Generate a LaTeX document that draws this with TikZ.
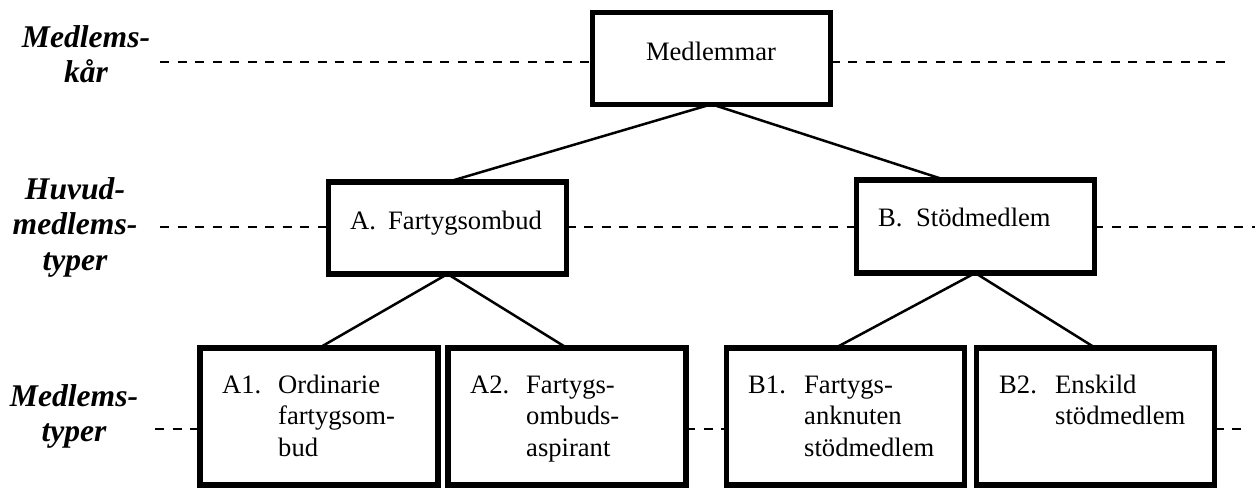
\documentclass[tikz,border=0pt]{standalone}
\usepackage{fontspec}
\setmainfont{Liberation Serif}
\usetikzlibrary{calc}
\begin{document}
\begin{tikzpicture}[x=1pt,y=-1pt,
  box/.style={draw,line width=5.5pt,minimum width=238pt,inner sep=0pt,outer sep=0pt},
  conn/.style={line width=2.5pt},
  dashline/.style={line width=2.5pt,dash pattern=on 9pt off 8.5pt},
  txt/.style={inner sep=0pt,anchor=base west,font=\fontsize{26.6}{31.5}\selectfont},
  lbl/.style={inner sep=0pt,anchor=base,font=\fontsize{31.6}{35.5}\selectfont\bfseries\itshape}]
\useasboundingbox (0,0) rectangle (1255,490);
% boxes
\node[box,minimum height=92pt] (top) at (711.5,58.25) {};
\node[box,minimum height=92pt] (A) at (447.5,228) {};
\node[box,minimum height=93pt] (B) at (975.25,226.5) {};
\node[box,minimum height=137pt] (A1) at (319,416.5) {};
\node[box,minimum height=137pt] (A2) at (567,416.5) {};
\node[box,minimum height=137pt] (B1) at (845.25,416.5) {};
\node[box,minimum height=137pt] (B2) at (1095.5,416.5) {};
% texts
\node[txt,anchor=base] (t0) at (711,60) {Medlemmar};
\node[txt] (ta) at (350,229) {\makebox[38pt][l]{A.}Fartygsombud};
\node[txt] (tb) at (878,226) {\makebox[38pt][l]{B.}Stödmedlem};
\node[txt] (ta1) at (222,393) {\begin{tabular}[t]{@{}p{56pt}@{}l@{}}A1.&Ordinarie\\&fartygsom-\\&bud\end{tabular}};
\node[txt] (ta2) at (470,393) {\begin{tabular}[t]{@{}p{56pt}@{}l@{}}A2.&Fartygs-\\&ombuds-\\&aspirant\end{tabular}};
\node[txt] (tb1) at (748,393) {\begin{tabular}[t]{@{}p{56pt}@{}l@{}}B1.&Fartygs-\\&anknuten\\&stödmedlem\end{tabular}};
\node[txt] (tb2) at (999,393) {\begin{tabular}[t]{@{}p{56pt}@{}l@{}}B2.&Enskild\\&stödmedlem\end{tabular}};
% left labels
\node[lbl] (l1) at (86,47) {\begin{tabular}[t]{@{}c@{}}Medlems-\\kår\end{tabular}};
\node[lbl] (l2) at (75,199) {\begin{tabular}[t]{@{}c@{}}Huvud-\\medlems-\\typer\end{tabular}};
\node[lbl] (l3) at (74,406) {\begin{tabular}[t]{@{}c@{}}Medlems-\\typer\end{tabular}};
% dashed level lines
\coordinate (d1l) at (160,62);
\coordinate (d1r) at (1227,62);
\coordinate (d2l) at (160,227);
\coordinate (d2r) at (1255,227);
\coordinate (d3l) at (155,429);
\coordinate (d3r) at (1243,429);
\draw[dashline] (d1l) -- (d1l -| top.west);
\draw[dashline] (d1r -| top.east) -- (d1r);
\draw[dashline] (d2l) -- (d2l -| A.west);
\draw[dashline] (d2l -| A.east) -- (d2l -| B.west);
\draw[dashline] (d2r -| B.east) -- (d2r);
\draw[dashline] (d3l) -- (d3l -| A1.west);
\draw[dashline] (d3l -| A2.east) -- (d3l -| B1.west);
\draw[dashline] (d3r -| B2.east) -- (d3r);
% connectors
\draw[conn] (top.south) -- (A.north);
\draw[conn] (top.south) -- ([xshift=-30pt]B.north);
\draw[conn] (A.south) -- (A1.north);
\draw[conn] (A.south) -- (A2.north);
\draw[conn] (B.south) -- ([xshift=-10pt]B1.north);
\draw[conn] (B.south) -- (B2.north);
\end{tikzpicture}
\end{document}
